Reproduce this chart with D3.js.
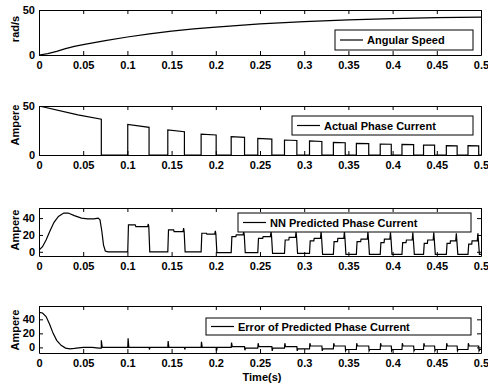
<!DOCTYPE html>
<html>
<head>
<meta charset="utf-8">
<script src="https://cdn.jsdelivr.net/npm/d3@7"></script>
<style>
  body { margin: 0; background: #fff; }
  svg text { font-family: "Liberation Sans", Arial, sans-serif; font-size: 11px; font-weight: bold; fill: #000; }
</style>
</head>
<body>
<svg id="chart" width="488" height="385"></svg>
<script>
// x ticks shared by all panels
const timeTicks = [0, 0.05, 0.1, 0.15, 0.2, 0.25, 0.3, 0.35, 0.4, 0.45, 0.5];

// angular speed (rad/s)
const speedT = [0, 0.01, 0.02, 0.03, 0.04, 0.05, 0.075, 0.1, 0.125, 0.15, 0.175, 0.2, 0.25, 0.3, 0.35, 0.4, 0.45, 0.5];
const speed = [0, 1.5, 4, 7, 9.5, 11.5, 16, 20, 23.5, 26.5, 29, 31, 34.5, 37, 39, 40.5, 41.5, 42];

// pulse edges (s)
const riseT = [0.1004, 0.1457, 0.1834, 0.2174, 0.2475, 0.2777, 0.306, 0.333, 0.359, 0.386, 0.4106, 0.435, 0.4608, 0.4853];
const fallT = [0.1245, 0.1645, 0.2004, 0.2325, 0.2634, 0.2917, 0.32, 0.3464, 0.373, 0.3985, 0.4238, 0.4475, 0.473, 0.4974];

// actual phase current
const actHeadT = [0, 0.044, 0.0705];
const actHead = [50, 41, 36.5];
const actStart = [31.3, 25.5, 21.4, 18.7, 17, 15.3, 14.3, 12.9, 11.9, 11.2, 10.9, 10.2, 9.5, 9.5];
const actEnd = [28.2, 23.8, 20.4, 18, 16.3, 14.8, 13.8, 12.5, 11.6, 11, 10.6, 10, 9.3, 9.3];

// NN predicted phase current
const predHeadT = [0, 0.004, 0.008, 0.0125, 0.017, 0.022, 0.028, 0.033, 0.04, 0.048, 0.055, 0.062, 0.067, 0.069, 0.071, 0.073, 0.075, 0.078];
const predHead = [2, 6, 14, 25, 35, 42, 46, 46, 43, 40, 39, 39, 40, 38, 25, 8, 1, 0];
const predStart = [32, 26, 22, 18, 16, 14, 13, 12, 12, 11, 11, 10, 10, 9];
const predMid = [30, 24, 21, 20, 18, 17, 16, 16, 15, 15, 14, 14, 13, 13];
const predSpike = [33, 28, 25, 24, 24, 24, 24, 24, 24, 23, 23, 23, 22, 22];
const predLow = [0, 0, -1, -1, -2, -2, -3, -3, -3, -3, -3, -3, -3, -3];

// error of predicted phase current
const errHeadT = [0, 0.004, 0.008, 0.012, 0.016, 0.02, 0.025, 0.03, 0.035, 0.04, 0.05, 0.06, 0.068, 0.0705, 0.0705, 0.0715];
const errHead = [50, 49, 44, 33, 20, 10, 3, -1, -2, -1.5, 0, 0, -1, -1, 10, 0];
const errRise = [13, 9, 8, 7, 6, 6, 6, 6, 6, 6, 6, 6, 6, 6];
const errHigh = [0, 0, 0, 1, 1, 1, 2, 2, 2, 2, 2, 2, 2, 2];
const errFall = [-3, -3, -5, -4, -5, -5, -5, -5, -5, -5, -5, -5, -5, -5];
const errLow = [0, 0, 0, -1, -1, -2, -2, -3, -3, -3, -3, -3, -3, -3];

function actualPts() {
  const p = actHeadT.map((t, i) => [t, actHead[i]]);
  p.push([0.0705, 0]);
  riseT.forEach((r, i) => {
    p.push([r, 0], [r, actStart[i]], [fallT[i], actEnd[i]], [fallT[i], 0]);
  });
  p.push([0.5, 0]);
  return p;
}

function predPts() {
  const p = predHeadT.map((t, i) => [t, predHead[i]]);
  let low = 0;
  riseT.forEach((r, i) => {
    const f = fallT[i], w = f - r;
    p.push([r, low], [r + 0.0008, predStart[i]], [r + 0.35 * w, predStart[i]],
      [r + 0.38 * w, predMid[i]], [f - 0.0016, predMid[i]], [f - 0.0009, predSpike[i]],
      [f - 0.0003, predMid[i]], [f + 0.0008, predLow[i]]);
    low = predLow[i];
  });
  p.push([0.5, low]);
  return p;
}

function errPts() {
  const p = errHeadT.map((t, i) => [t, errHead[i]]);
  let low = 0;
  riseT.forEach((r, i) => {
    const f = fallT[i];
    p.push([r, low], [r + 0.0004, errRise[i]], [r + 0.0012, errHigh[i]],
      [f, errHigh[i]], [f + 0.0004, errFall[i]], [f + 0.0012, errLow[i]]);
    low = errLow[i];
  });
  p.push([0.5, low]);
  return p;
}

const panels = [
  {top: 10, bottom: 55, y: [0, 50], yTicks: [0, 50], label: 'rad/s', labelY: 29,
   pts: speedT.map((t, i) => [t, speed[i]]), legend: 'Angular Speed', lg: [335, 30, 473, 50]},
  {top: 106, bottom: 155, y: [0, 50], yTicks: [0, 50], label: 'Ampere', labelY: 125,
   pts: actualPts(), legend: 'Actual Phase Current', lg: [292, 116, 473, 135]},
  {top: 208, bottom: 256, y: [-5, 52], yTicks: [0, 20, 40], label: 'Ampere', labelY: 230,
   pts: predPts(), legend: 'NN Predicted Phase Current', lg: [238, 213, 471, 232]},
  {top: 306, bottom: 353, y: [-8, 59], yTicks: [0, 20, 40], label: 'Ampere', labelY: 330,
   pts: errPts(), legend: 'Error of Predicted Phase Current', lg: [206, 318, 471, 335]}
];

const svg = d3.select('#chart');
const left = 39, right = 481;
const x = d3.scaleLinear().domain([0, 0.5]).range([left, right]);

panels.forEach((pn, k) => {
  const y = d3.scaleLinear().domain(pn.y).range([pn.bottom, pn.top]);
  const g = svg.append('g');

  g.append('clipPath').attr('id', 'clip' + k)
    .append('rect').attr('x', left).attr('y', pn.top)
    .attr('width', right - left).attr('height', pn.bottom - pn.top);

  g.append('path')
    .datum(pn.pts)
    .attr('clip-path', 'url(#clip' + k + ')')
    .attr('fill', 'none')
    .attr('stroke', '#000')
    .attr('stroke-width', 1.2)
    .attr('d', d3.line().x(d => x(d[0])).y(d => y(d[1])));

  // box with inward ticks on all sides
  const bottomAx = d3.axisBottom(x).tickValues(timeTicks).tickFormat(d3.format('')).tickSize(-4).tickSizeOuter(0).tickPadding(6);
  const topAx = d3.axisTop(x).tickValues(timeTicks).tickFormat('').tickSize(-4).tickSizeOuter(0);
  const leftAx = d3.axisLeft(y).tickValues(pn.yTicks).tickSize(-4).tickSizeOuter(0).tickPadding(4);
  const rightAx = d3.axisRight(y).tickValues(pn.yTicks).tickFormat('').tickSize(-4).tickSizeOuter(0);

  g.append('g').attr('transform', `translate(0,${pn.bottom})`).call(bottomAx);
  g.append('g').attr('transform', `translate(0,${pn.top})`).call(topAx);
  g.append('g').attr('transform', `translate(${left},0)`).call(leftAx);
  g.append('g').attr('transform', `translate(${right},0)`).call(rightAx);

  g.selectAll('.domain, .tick line').attr('stroke', '#000').attr('stroke-width', 1);
  g.selectAll('.tick text').attr('font-size', null).attr('font-family', null);

  g.append('text')
    .attr('transform', `translate(19,${pn.labelY}) rotate(-90)`)
    .attr('text-anchor', 'middle')
    .text(pn.label);

  // legend
  const [lx0, ly0, lx1, ly1] = pn.lg;
  g.append('rect').attr('x', lx0).attr('y', ly0).attr('width', lx1 - lx0).attr('height', ly1 - ly0)
    .attr('fill', '#fff').attr('stroke', '#000').attr('stroke-width', 1);
  const my = (ly0 + ly1) / 2;
  g.append('line').attr('x1', lx0 + 5).attr('x2', lx0 + 28).attr('y1', my).attr('y2', my)
    .attr('stroke', '#000').attr('stroke-width', 1.2);
  g.append('text').attr('x', lx0 + 32).attr('y', my + 4).text(pn.legend);
});

svg.append('text')
  .attr('x', 262).attr('y', 381)
  .attr('text-anchor', 'middle')
  .text('Time(s)');
</script>
</body>
</html>
